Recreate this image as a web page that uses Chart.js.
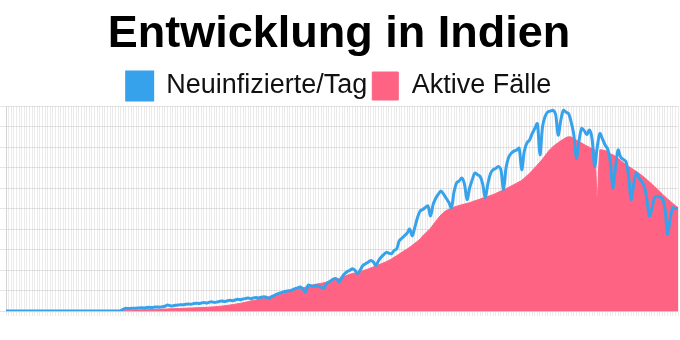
<!DOCTYPE html>
<html>
<head>
<meta charset="utf-8">
<script src="https://cdn.jsdelivr.net/npm/chart.js@4.4.1/dist/chart.umd.min.js"></script>
<style>
  html, body { margin: 0; padding: 0; background: #fff; }
  #wrap { width: 680px; height: 340px; }
</style>
</head>
<body>
<div id="wrap"><canvas id="chart"></canvas></div>
<script>
// Tageswerte (ab 16.02.2020)
const startDate = new Date(2020, 1, 16);

const newCases = [
  0, 0, 0, 0, 0, 0, 0, 0, 0, 0, 0, 0, 0, 0, 0, 0, 0, 0, 0, 0, 0, 0,
  0, 0, 0, 0, 0, 0, 0, 0, 0, 0, 0, 0, 0, 0, 0, 0, 0, 0, 0, 0, 0, 0,
  200, 800, 1300, 1200, 1300, 1400, 1350, 1500, 1600, 1500, 1700, 1800, 1650, 1900, 2000, 1850, 2100, 2300, 2900, 2600,
  2500, 2800, 2900, 3100, 3000, 3300, 3400, 3300, 3600, 3800, 3700, 3900, 4100, 3900, 4300, 4500, 4200, 4400, 4700, 4900,
  4600, 5000, 5200, 5000, 5400, 5700, 5500, 5900, 6100, 6300, 6000, 6400, 6600, 6400, 6700, 6900, 6700, 6200, 7000, 7600,
  8200, 8700, 9100, 9500, 9800, 9900, 10400, 10900, 11300, 11700, 10800, 9300, 12600, 12300, 12000, 12400, 12000, 11600, 11100, 13200,
  14200, 15000, 15800, 15600, 14200, 16500, 18200, 19200, 19800, 20600, 19800, 18200, 20000, 22200, 23000, 23800, 24600, 24000, 22200, 24500,
  26200, 27500, 28600, 28200, 27900, 29500, 30300, 34300, 35500, 36700, 38000, 40000, 36700, 41000, 45600, 48800, 49500, 50500, 51200, 46400,
  52000, 55000, 57000, 58500, 57000, 55000, 53000, 50400, 58000, 62500, 63500, 64900, 62000, 54400, 60000, 64000, 67300, 66500, 65700, 62000,
  55200, 62000, 67000, 68900, 69500, 70500, 69000, 59300, 70000, 75000, 77000, 78000, 78500, 79400, 68900, 78000, 82000, 83400, 86500, 89000,
  91400, 76200, 90000, 95000, 97100, 97500, 97900, 96000, 85800, 93000, 97900, 97000, 96300, 92000, 86000, 74500, 83000, 89000, 88000, 86000,
  88300, 84000, 70500, 80000, 86600, 84000, 81000, 79000, 73000, 60000, 70000, 78600, 75000, 74000, 72900, 66000, 54400, 62000, 67300, 65000,
  63300, 61000, 55000, 46400, 50000, 55200, 56000, 55500, 55000, 50000, 37500, 45000, 50400, 50000, 50000
];

const activeCases = [
  0, 0, 0, 0, 0, 0, 0, 0, 0, 0, 0, 0, 0, 0, 0, 0, 0, 0, 0, 0,
  0, 0, 0, 0, 0, 0, 0, 0, 0, 0, 0, 0, 0, 0, 0, 0, 0, 0, 0, 0,
  1000, 1400, 2100, 2500, 3100, 3400, 4000, 4600, 5000, 5400, 6100, 6500, 7000, 7600, 8000, 8400, 9100, 9500, 10000, 10600, 11000,
  11500, 12000, 12800, 13300, 14000, 14600, 15200, 15600, 16300, 17000, 17500, 18200, 19000, 19600, 20300, 21000, 21800, 22600, 23500, 24400,
  26000, 27500, 29000, 31000, 33000, 35000, 37500, 40000, 42500, 45000, 48000, 51500, 55000, 58000, 61500, 65000, 68500, 72000, 75500, 79000,
  83000, 86500, 90000, 94000, 98000, 102000, 106000, 110000, 114000, 118000, 122500, 127000, 132000, 136000, 140000, 145000, 150000, 153500, 157000, 160000,
  162000, 165000, 169000, 173000, 177000, 181000, 185500, 190000, 196000, 203000, 209000, 215000, 219000, 223000, 226000, 230000, 235000, 241000, 246000, 252000,
  258000, 264000, 270000, 276000, 282000, 289000, 296000, 305000, 315000, 324000, 334000, 344000, 354000, 363000, 373000, 385000, 397000, 409000, 421000, 440000,
  455000, 470000, 485000, 505000, 525000, 545000, 562000, 577000, 588000, 595000, 602000, 608000, 613000, 618000, 622000, 626000, 630000, 634000, 640000, 645000,
  650000, 655000, 661000, 666000, 671000, 676000, 681000, 688000, 695000, 702000, 709000, 716000, 724000, 732000, 740000, 748000, 756000, 765000, 778000, 792000,
  806000, 822000, 838000, 855000, 872000, 890000, 910000, 930000, 948000, 962000, 975000, 985000, 996000, 1006000, 1015000, 1020000, 1018000, 1010000, 1000000, 992000,
  983000, 974000, 966000, 958000, 950000, 944000, 662000, 943000, 942000, 939000, 933000, 920000, 915000, 905000, 893000, 881000, 869000, 857000, 847000, 837000,
  827000, 817000, 806000, 795000, 783000, 770000, 756000, 742000, 728000, 714000, 699000, 684000, 670000, 656000, 643000, 630000, 617000, 605000
];

const labels = newCases.map((_, i) => {
  const d = new Date(startDate);
  d.setDate(d.getDate() + i);
  return d.toLocaleDateString("de-DE");
});

const fontFamily = "'Liberation Sans', Arial, Helvetica, sans-serif";

new Chart(document.getElementById("chart"), {
  type: "line",
  data: {
    labels: labels,
    datasets: [
      {
        label: "Neuinfizierte/Tag",
        data: newCases,
        yAxisID: "y",
        borderColor: "#36A2EB",
        backgroundColor: "#36A2EB",
        borderWidth: 3,
        pointRadius: 0,
        tension: 0.3,
        fill: false,
      },
      {
        label: "Aktive Fälle",
        data: activeCases,
        yAxisID: "y1",
        borderColor: "#FF6384",
        backgroundColor: "#FF6384",
        borderWidth: 1,
        pointRadius: 0,
        tension: 0.3,
        fill: "origin",
      },
    ],
  },
  options: {
    responsive: true,
    maintainAspectRatio: false,
    animation: false,
    layout: { padding: { bottom: 24, right: 2 } },
    plugins: {
      title: {
        display: true,
        text: "Entwicklung in Indien",
        color: "#000",
        font: { size: 45, weight: "bold", family: fontFamily },
        padding: { top: 8, bottom: 5 },
      },
      legend: {
        maxHeight: 39,
        labels: {
          boxWidth: 26,
          boxHeight: 28,
          padding: 5,
          color: "#111",
          font: { size: 27, family: fontFamily },
        },
      },
      tooltip: { enabled: false },
    },
    scales: {
      x: {
        ticks: { display: false },
        grid: { color: "rgba(0,0,0,0.08)", tickLength: 5 },
      },
      y: {
        min: 0,
        max: 100000,
        ticks: { display: false, stepSize: 10000 },
        grid: { color: "rgba(0,0,0,0.1)", tickLength: 6 },
      },
      y1: {
        min: 0,
        max: 1200000,
        display: false,
      },
    },
  },
});
</script>
</body>
</html>
